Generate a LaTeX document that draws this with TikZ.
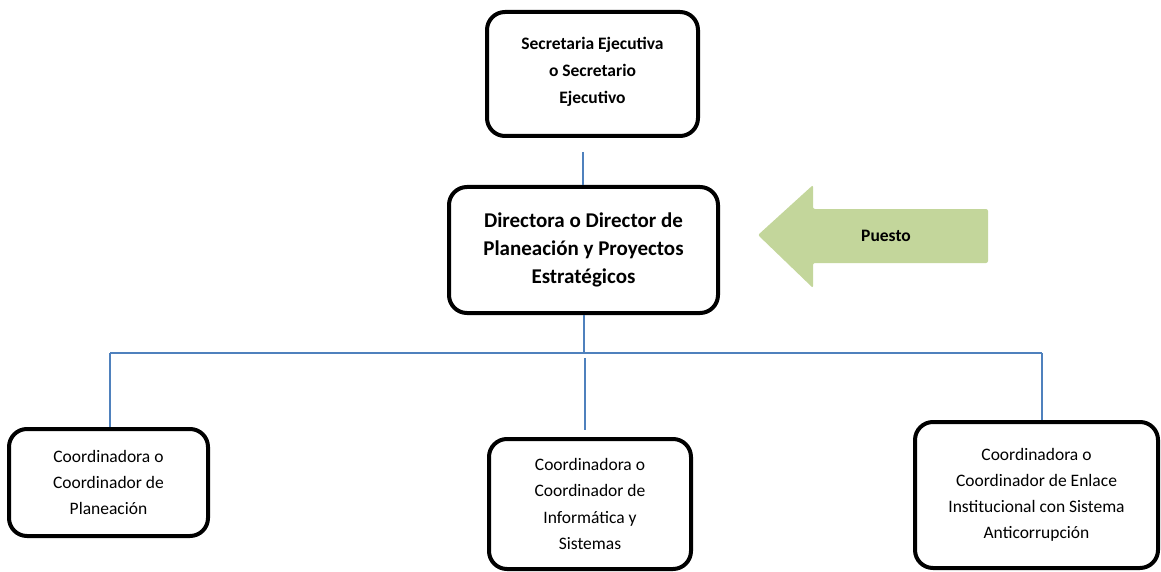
\documentclass[tikz,border=0pt]{standalone}
\usepackage{fontspec}
\setmainfont{Carlito}
\usetikzlibrary{calc}
\definecolor{connblue}{HTML}{4F81BD}
\definecolor{arrowgreen}{HTML}{C3D69B}
\tikzset{
  box/.style={draw=black, line width=4pt, rounded corners=18pt, fill=white, align=center, inner sep=0pt},
  conn/.style={draw=connblue, line width=1.4pt},
}
\begin{document}
\begin{tikzpicture}[x=1pt, y=-1pt]
\useasboundingbox (0,0) rectangle (1161,572);
% boxes
\node[box, minimum width=211pt, minimum height=124pt, font=\bfseries\fontsize{17.5}{27}\selectfont]
  (top) at (592.5,74) {Secretaria Ejecutiva\\o Secretario\\Ejecutivo\rule[-8pt]{0pt}{1pt}};
\node[box, minimum width=269pt, minimum height=126pt, font=\bfseries\fontsize{21}{28}\selectfont]
  (mid) at (583.5,250) {Directora o Director de\\Planeación y Proyectos\\Estratégicos};
\node[box, minimum width=199pt, minimum height=107pt, font=\fontsize{17.5}{26}\selectfont]
  (left) at (108.5,482.5) {Coordinadora o\\Coordinador de\\Planeación};
\node[box, minimum width=202pt, minimum height=130pt, font=\fontsize{17.5}{26.5}\selectfont]
  (center) at (590,504) {Coordinadora o\\Coordinador de\\Informática y\\Sistemas};
\node[box, minimum width=243pt, minimum height=146pt, font=\fontsize{17.5}{26}\selectfont]
  (right) at (1036.5,495) {Coordinadora o\\Coordinador de Enlace\\Institucional con Sistema\\Anticorrupción};
% arrow
\fill[arrowgreen, rounded corners=2pt] (758,235) -- (813,185) -- (813,209) -- (988,209) -- (988,263) -- (813,263) -- (813,288) -- cycle;
\node[font=\bfseries\fontsize{17.5}{20}\selectfont] (puesto) at (886,236) {Puesto};
% connectors
\coordinate (topend) at (583,152);
\coordinate (bus) at (584,353);
\coordinate (busL) at (110,353);
\coordinate (busR) at (1042,353);
\coordinate (cstart) at (585,358);
\coordinate (cend) at (585,430);
\draw[conn] (topend) -- (topend |- mid.north);
\draw[conn] (mid.south -| bus) -- (bus);
\draw[conn] (busL) -- (busR);
\draw[conn] (busL) -- (busL |- left.north);
\draw[conn] (busR) -- (busR |- right.north);
\draw[conn] (cstart) -- (cend);
\end{tikzpicture}
\end{document}
